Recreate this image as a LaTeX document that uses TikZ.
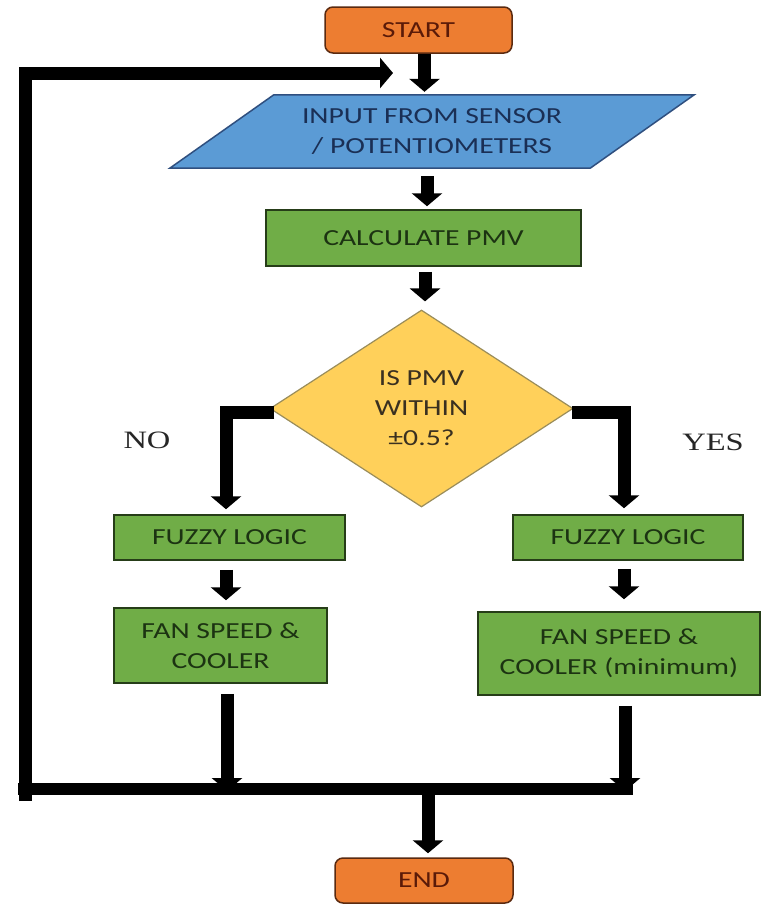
\documentclass[tikz,border=0pt]{standalone}
\usepackage{fontspec}
\setmainfont{Carlito}[FakeStretch=1.29]
\newfontfamily\labelfont{Liberation Serif}[FakeStretch=1.3]
\usetikzlibrary{arrows.meta,shapes.geometric,backgrounds}

\definecolor{termfill}{HTML}{ED7D31}
\definecolor{termline}{HTML}{5A2A10}
\definecolor{termtext}{HTML}{5A1A08}
\definecolor{iofill}{HTML}{5B9BD5}
\definecolor{ioline}{HTML}{2F4F7F}
\definecolor{iotext}{HTML}{1A2F55}
\definecolor{procfill}{HTML}{70AD47}
\definecolor{procline}{HTML}{263D18}
\definecolor{proctext}{HTML}{1C3312}
\definecolor{decfill}{HTML}{FFD05A}
\definecolor{decline}{HTML}{9A8D5A}
\definecolor{dectext}{HTML}{3A3020}

\tikzset{
  txt/.style={font=\fontsize{23}{30}\selectfont, align=center, inner sep=0pt},
  terminal/.style={txt, draw=termline, line width=1.5pt, fill=termfill,
    text=termtext, rounded corners=8pt},
  process/.style={txt, draw=procline, line width=1.5pt, fill=procfill,
    text=proctext},
  decision/.style={txt, diamond, draw=decline, line width=1.2pt, fill=decfill,
    text=dectext, minimum width=303pt, minimum height=197pt},
  flow/.style={line width=13pt, line join=miter,
    -{Triangle[width=30pt,length=13pt]}},
  busline/.style={line width=12pt, line join=miter},
  answer/.style={font=\labelfont\fontsize{25}{30}\selectfont, text=black!85}
}

\begin{document}
\begin{tikzpicture}[x=1pt,y=-1pt]
\useasboundingbox (0,0) rectangle (762,905);

% terminals
\node[terminal, minimum width=187pt, minimum height=46pt] (start) at (418.5,30) {START};
\node[terminal, minimum width=178pt, minimum height=45pt] (end) at (424,880.5) {END};

% input step: text box with a parallelogram drawn behind it
\node[txt, text=iotext, minimum width=524pt, minimum height=73pt] (input) at (432,131.5)
  {INPUT FROM SENSOR\\/ POTENTIOMETERS};
\begin{scope}[on background layer]
  \fill[white] (0,0) rectangle (762,905);
  \fill[iofill, draw=ioline, line width=1.5pt]
    (input.south west) -- ([xshift=104pt]input.north west) -- (input.north east)
    -- ([xshift=-104pt]input.south east) -- cycle;
\end{scope}

% processing steps
\node[process, minimum width=315pt, minimum height=56pt] (calc) at (423.5,238) {CALCULATE PMV};
\node[decision] (dec) at (421.5,408.5) {IS PMV\\WITHIN\\±0.5?};

\node[process, minimum width=231pt, minimum height=45pt] (fuzzyL) at (229.5,537.5) {FUZZY LOGIC};
\node[process, minimum width=230pt, minimum height=45pt] (fuzzyR) at (628,537.5) {FUZZY LOGIC};
\node[process, minimum width=213pt, minimum height=75pt] (fanL) at (220.5,645.5) {FAN SPEED \&\\COOLER};
\node[process, minimum width=282pt, minimum height=83pt] (fanR) at (619,653.5) {FAN SPEED \&\\COOLER (minimum)};

% branch labels
\node[answer] (no) at (147,440) {NO};
\node[answer] (yes) at (713,442) {YES};

% main column
\draw[flow, shorten >=3pt] ([xshift=6pt]start.south) -- ([xshift=6pt]start.south |- input.north);
\draw[flow, shorten <=8pt, shorten >=3pt] ([xshift=-5pt]input.south) -- ([xshift=-5pt]input.south |- calc.north);
\draw[flow, shorten <=5pt, shorten >=8pt] ([xshift=1.5pt]calc.south) -- ([xshift=1.5pt]calc.south |- dec.north);

% decision branches
\draw[flow, shorten <=-5pt, shorten >=5pt] ([yshift=-4pt]dec.west) -| ([xshift=-3.5pt]fuzzyL.north);
\draw[flow, shorten <=-2pt, shorten >=6pt] ([yshift=-4pt]dec.east) -| ([xshift=-4pt]fuzzyR.north);

% to the actuator blocks
\draw[flow, shorten <=9pt, shorten >=7pt] ([xshift=-3.5pt]fuzzyL.south) -- ([xshift=-3.5pt]fuzzyL.south |- fanL.north);
\draw[flow, shorten <=8pt, shorten >=12pt] ([xshift=-4pt]fuzzyR.south) -- ([xshift=-4pt]fuzzyR.south |- fanR.north);

% collecting bus and loop back
\coordinate (busL) at (18,789);
\coordinate (busR) at (633,789);
\coordinate (busC) at (428,789);
\coordinate (loopBase) at (25,801);
\coordinate (loopTop) at (25,73);
\coordinate (loopEnd) at (393,73);

\draw[busline] (busL) -- (busR);
\draw[flow, shorten <=10pt, shorten >=-2pt] ([xshift=6.5pt]fanL.south) -- ([xshift=6.5pt]fanL.south |- busC);
\draw[flow, shorten <=10pt, shorten >=-2pt] ([xshift=6pt]fanR.south) -- ([xshift=6pt]fanR.south |- busC);
\draw[flow] (loopBase) -- (loopTop) -- (loopEnd);
\draw[flow, shorten >=4pt] (busC) -- (busC |- end.north);
\end{tikzpicture}
\end{document}
